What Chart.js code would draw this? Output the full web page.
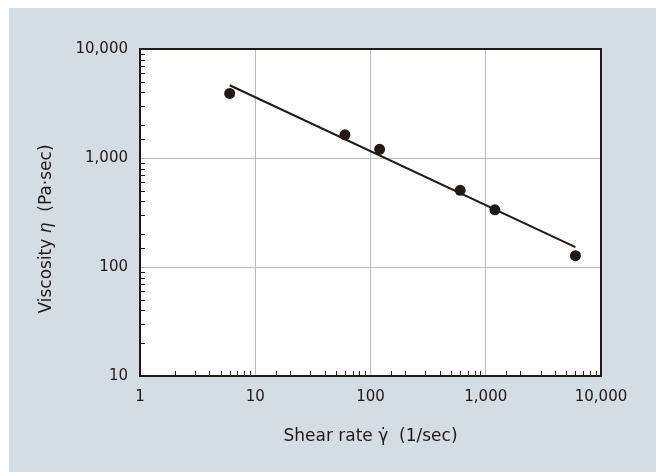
<!DOCTYPE html>
<html>
<head>
<meta charset="utf-8">
<script src="https://cdn.jsdelivr.net/npm/chart.js@4.4.1/dist/chart.umd.min.js"></script>
<style>
    html, body { margin: 0; padding: 0; background: #fff; }
    #wrap { width: 656px; height: 472px; }
</style>
</head>
<body>
<div id="wrap"><canvas id="chart" width="656" height="472"></canvas></div>
<script>
// Measured viscosity vs shear rate
const shearRate = [6, 60, 120, 600, 1200, 6000];
const viscosity = [3910, 1630, 1200, 505, 335, 127];

// Fitted power-law line (end points)
const fitRate = [6, 6000];
const fitViscosity = [4650, 152];

// Axis decades and their labels
const xMajor = [1, 10, 100, 1000, 10000];
const xTickLabels = ['1', '10', '100', '1,000', '10,000'];
const yMajor = [10, 100, 1000, 10000];
const yTickLabels = ['10', '100', '1,000', '10,000'];

const INK = '#231815';
const GRID = '#b7bacb';
const PANEL = '#d5dde4';
const FONT = '"DejaVu Sans", sans-serif';

function majorIndex(list, v) {
    return list.findIndex(m => Math.abs(v - m) < m * 1e-6);
}

// background panel, frame, inward minor ticks, axis titles
const decorPlugin = {
    id: 'decor',
    beforeDraw(chart) {
        const ctx = chart.ctx;
        const a = chart.chartArea;
        ctx.save();
        ctx.fillStyle = '#ffffff';
        ctx.fillRect(0, 0, chart.width, chart.height);
        ctx.fillStyle = PANEL;
        ctx.fillRect(9, 8, chart.width - 9, chart.height - 8);
        ctx.fillStyle = '#ffffff';
        ctx.fillRect(a.left, a.top, a.right - a.left, a.bottom - a.top);
        ctx.restore();
    },
    beforeDatasetsDraw(chart) {
        const ctx = chart.ctx;
        const a = chart.chartArea;
        const xs = chart.scales.x;
        const ys = chart.scales.y;
        ctx.save();
        ctx.strokeStyle = INK;
        ctx.lineWidth = 1;
        ctx.beginPath();
        xs.ticks.forEach((t, i) => {
            if (majorIndex(xMajor, t.value) >= 0) return;
            const px = Math.round(xs.getPixelForTick(i)) + 0.5;
            ctx.moveTo(px, a.bottom);
            ctx.lineTo(px, a.bottom - 5);
        });
        ys.ticks.forEach((t, i) => {
            if (majorIndex(yMajor, t.value) >= 0) return;
            const py = Math.round(ys.getPixelForTick(i)) + 0.5;
            ctx.moveTo(a.left, py);
            ctx.lineTo(a.left + 5, py);
        });
        ctx.stroke();

        ctx.lineWidth = 2;
        ctx.strokeRect(a.left, a.top, a.right - a.left, a.bottom - a.top);
        ctx.restore();
    },
    afterDraw(chart) {
        const ctx = chart.ctx;
        const a = chart.chartArea;
        ctx.save();
        ctx.fillStyle = INK;
        ctx.textBaseline = 'middle';

        // x title
        ctx.font = '17px ' + FONT;
        ctx.textAlign = 'center';
        ctx.fillText('Shear rate \u03B3\u0307  (1/sec)', (a.left + a.right) / 2, 437);

        // y title, with italic eta
        const parts = [
            ['Viscosity ', '17px ' + FONT],
            ['\u03B7', 'italic 17px ' + FONT],
            ['  (Pa\u00B7sec)', '17px ' + FONT]
        ];
        let total = 0;
        parts.forEach(p => { ctx.font = p[1]; total += ctx.measureText(p[0]).width; });
        ctx.translate(47, 229);
        ctx.rotate(-Math.PI / 2);
        ctx.textAlign = 'left';
        let x = -total / 2;
        parts.forEach(p => {
            ctx.font = p[1];
            ctx.fillText(p[0], x, 0);
            x += ctx.measureText(p[0]).width;
        });
        ctx.restore();
    }
};

const chart = new Chart(document.getElementById('chart'), {
    type: 'scatter',
    data: {
        datasets: [{
            label: 'Fit',
            data: fitRate.map((x, i) => ({ x: x, y: fitViscosity[i] })),
            showLine: true,
            borderColor: INK,
            borderWidth: 2,
            pointRadius: 0,
            order: 2
        }, {
            label: 'Measured',
            data: shearRate.map((x, i) => ({ x: x, y: viscosity[i] })),
            backgroundColor: INK,
            borderWidth: 0,
            pointRadius: 5.5,
            order: 1
        }]
    },
    options: {
        responsive: false,
        animation: false,
        devicePixelRatio: 1,
        layout: { padding: { left: 0, top: 49, right: 55, bottom: 0 } },
        plugins: {
            legend: { display: false },
            tooltip: { enabled: false }
        },
        scales: {
            x: {
                type: 'logarithmic',
                min: 1,
                max: 10000,
                afterFit: s => { s.height = 96; },
                border: { display: false },
                grid: {
                    drawTicks: false,
                    color: c => (c.tick && majorIndex(xMajor, c.tick.value) >= 0) ? GRID : 'rgba(0,0,0,0)'
                },
                ticks: {
                    autoSkip: false,
                    maxRotation: 0,
                    padding: 12,
                    color: INK,
                    font: { family: FONT, size: 15 },
                    callback: v => {
                        const i = majorIndex(xMajor, v);
                        return i >= 0 ? xTickLabels[i] : '';
                    }
                }
            },
            y: {
                type: 'logarithmic',
                min: 10,
                max: 10000,
                afterFit: s => { s.width = 140; },
                border: { display: false },
                grid: {
                    drawTicks: false,
                    color: c => (c.tick && majorIndex(yMajor, c.tick.value) >= 0) ? GRID : 'rgba(0,0,0,0)'
                },
                ticks: {
                    autoSkip: false,
                    padding: 12,
                    color: INK,
                    font: { family: FONT, size: 15 },
                    callback: v => {
                        const i = majorIndex(yMajor, v);
                        return i >= 0 ? yTickLabels[i] : '';
                    }
                }
            }
        }
    },
    plugins: [decorPlugin]
});
</script>
</body>
</html>
